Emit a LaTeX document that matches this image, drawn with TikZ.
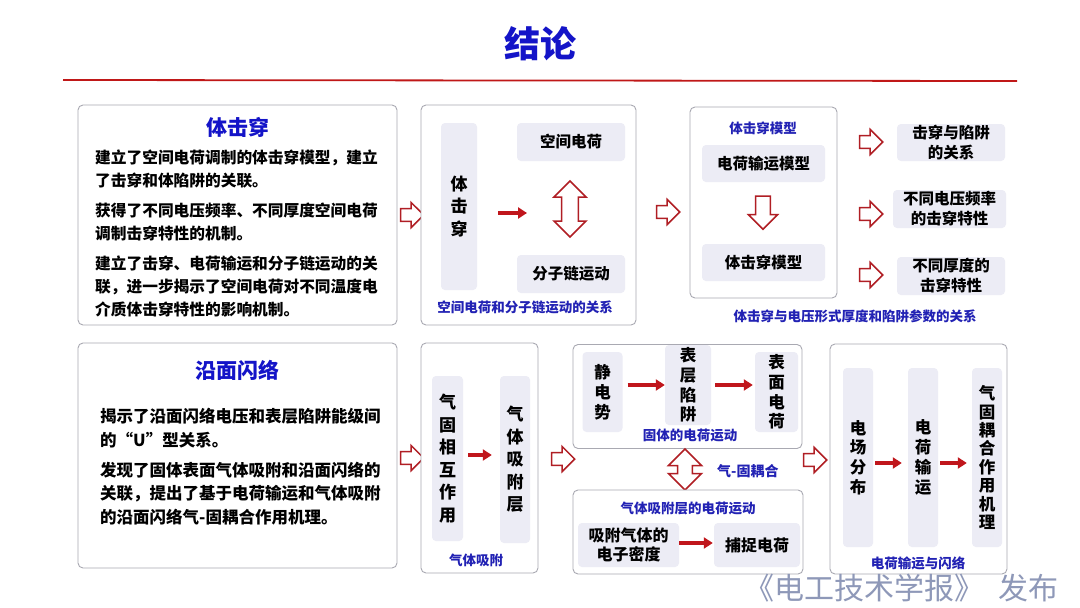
\documentclass[tikz,border=0pt]{standalone}
\usepackage{fontspec}
\setmainfont{Noto Sans CJK SC}
\usetikzlibrary{shapes.arrows,arrows.meta}
\definecolor{titleblue}{HTML}{1414C8}
\definecolor{capblue}{HTML}{2222B4}
\definecolor{arrred}{HTML}{B01E24}
\definecolor{solidred}{HTML}{C0161C}
\definecolor{linered}{HTML}{C01818}
\definecolor{panelgray}{HTML}{A9A9B2}
\definecolor{palefill}{HTML}{ECECF5}
\definecolor{wmcolor}{HTML}{8E98B8}
\begin{document}
\begin{tikzpicture}[x=1pt,y=-1pt,
 panel/.style={draw=panelgray, line width=0.9pt, rounded corners=5pt, fill=white, inner sep=0pt},
 pale/.style={fill=palefill, rounded corners=4pt, inner sep=0pt, align=center, font=\bfseries\fontsize{15.5}{20}\selectfont},
 vert/.style={pale, font=\bfseries\fontsize{17}{22.5}\selectfont},
 vsmall/.style={pale, font=\bfseries\fontsize{16.5}{19.8}\selectfont},
 captxt/.style={text=capblue, font=\bfseries\fontsize{13.5}{16}\selectfont, inner sep=0pt},
 body/.style={align=left, inner sep=0pt, font=\bfseries\fontsize{15.7}{23}\selectfont},
 ptitle/.style={text=titleblue, font=\bfseries\fontsize{21}{24}\selectfont, inner sep=0pt},
 redarr/.style={draw=solidred, line width=3.5pt, -{Triangle[length=9pt,width=11pt]}},
 hollow/.style={single arrow, draw=arrred, fill=white, line width=1.5pt, minimum height=23pt, minimum width=25pt, inner xsep=0pt, inner ysep=5.5pt, single arrow head extend=6pt},
 dhollow/.style={double arrow, draw=arrred, fill=white, line width=1.5pt, inner xsep=0pt, inner ysep=6pt, double arrow head extend=6pt, rotate=90}
]
\useasboundingbox[fill=white] (0,0) rectangle (1080,608);

% title
\node[text=titleblue, font=\bfseries\fontsize{36}{40}\selectfont, inner sep=0pt] (title) at (540,44) {结论};
\coordinate (la) at (63,80);
\coordinate (lb) at (1017,81);
\draw[linered, line width=1.8pt] (la) -- (lb);

% ---------- top row ----------
\node[panel, minimum width=319pt, minimum height=220pt] (b1) at (237.5,215) {};
\node[ptitle] (t1) at (238,127) {体击穿};
\node[body, anchor=west] (p1) at (95,233.5) {建立了空间电荷调制的体击穿模型，建立\\了击穿和体陷阱的关联。\\[7pt]获得了不同电压频率、不同厚度空间电荷\\调制击穿特性的机制。\\[7pt]建立了击穿、电荷输运和分子链运动的关\\联，进一步揭示了空间电荷对不同温度电\\介质体击穿特性的影响机制。};

\node[hollow] (h1) at (409,215) {};

\node[panel, minimum width=215pt, minimum height=220pt] (b2) at (528.5,215) {};
\node[vert, minimum width=36pt, minimum height=167pt] (v1) at (459,206.5) {体\\击\\穿};
\node[pale, minimum width=108pt, minimum height=38pt] (k1) at (571,142) {空间电荷};
\node[pale, minimum width=108pt, minimum height=38pt] (k2) at (571,274) {分子链运动};
\node[dhollow, minimum height=56pt, minimum width=32pt] (d1) at (570,209) {};
\coordinate (a1s) at (498,213);
\coordinate (a1e) at (527,213);
\draw[redarr] (a1s) -- (a1e);
\node[captxt] (c2) at (525,307) {空间电荷和分子链运动的关系};

\node[hollow] (h2) at (665,212) {};

\node[panel, minimum width=147pt, minimum height=191pt] (b3) at (763.5,202.5) {};
\node[captxt] (c3a) at (763,128) {体击穿模型};
\node[pale, minimum width=123pt, minimum height=37pt] (m1) at (763.5,163.5) {电荷输运模型};
\node[pale, minimum width=123pt, minimum height=37pt] (m2) at (763.5,262.5) {体击穿模型};
\node[hollow, rotate=-90, minimum height=33pt, minimum width=29pt] (h3) at (763,209) {};
\node[captxt] (c3) at (855,316) {体击穿与电压形式厚度和陷阱参数的关系};

\node[hollow] (h4) at (868,142) {};
\node[hollow] (h5) at (868,214) {};
\node[hollow] (h6) at (868,275) {};
\node[pale, minimum width=108pt, minimum height=37pt] (r1) at (951,142.5) {击穿与陷阱\\的关系};
\node[pale, minimum width=113pt, minimum height=38pt] (r2) at (949.5,209) {不同电压频率\\的击穿特性};
\node[pale, minimum width=108pt, minimum height=38pt] (r3) at (951,276) {不同厚度的\\击穿特性};

% ---------- bottom row ----------
\node[panel, minimum width=319pt, minimum height=225pt] (b4) at (237.5,455.5) {};
\node[ptitle] (t4) at (237,370) {沿面闪络};
\node[body, anchor=west, font=\bfseries\fontsize{16.5}{23.5}\selectfont] (p4) at (100,466.5) {揭示了沿面闪络电压和表层陷阱能级间\\的“U”型关系。\\[6.5pt]发现了固体表面气体吸附和沿面闪络的\\关联，提出了基于电荷输运和气体吸附\\的沿面闪络气-固耦合作用机理。};

\node[hollow] (h7) at (409,458) {};

\node[panel, minimum width=117pt, minimum height=230pt] (b5) at (479.5,458) {};
\node[vert, minimum width=31pt, minimum height=165pt] (g1) at (447.5,458.5) {气\\固\\相\\互\\作\\用};
\node[vert, minimum width=30pt, minimum height=167pt] (g2) at (515,459.5) {气\\体\\吸\\附\\层};
\draw[redarr, shorten <=5pt, shorten >=8pt] (g1.east |- 0,455) -- (g2.west |- 0,455);
\node[captxt] (c5) at (476,560) {气体吸附};

\node[hollow] (h8) at (560,459) {};

\node[panel, minimum width=229pt, minimum height=104pt] (b6) at (687.5,396.5) {};
\node[vsmall, minimum width=40pt, minimum height=80pt] (s1) at (602.5,392) {静\\电\\势};
\node[vsmall, minimum width=46pt, minimum height=80pt] (s2) at (688,385) {表\\层\\陷\\阱};
\node[vsmall, minimum width=43pt, minimum height=80pt] (s3) at (776.5,392) {表\\面\\电\\荷};
\draw[redarr, shorten <=5pt] (s1.east |- 0,385) -- (s2.west |- 0,385);
\draw[redarr, shorten <=4pt, shorten >=2pt] (s2.east |- 0,385) -- (s3.west |- 0,385);
\node[captxt] (c6) at (690,435) {固体的电荷运动};

\node[dhollow, minimum height=41pt, minimum width=33pt, double arrow head extend=7pt, inner ysep=5pt] (d2) at (685,469.5) {};
\node[text=capblue, font=\bfseries\fontsize{14}{16}\selectfont, inner sep=0pt, anchor=west] (cp) at (717,471) {气-固耦合};

\node[panel, minimum width=230pt, minimum height=84pt] (b7) at (688,532) {};
\node[captxt] (c7) at (688,508) {气体吸附层的电荷运动};
\node[pale, minimum width=101pt, minimum height=44pt, font=\bfseries\fontsize{16}{19}\selectfont] (e1) at (628.5,545) {吸附气体的\\电子密度};
\node[pale, minimum width=86pt, minimum height=44pt, font=\bfseries\fontsize{16}{19}\selectfont] (e2) at (757,545) {捕捉电荷};
\draw[redarr, shorten >=1pt] (e1.east |- 0,543) -- (e2.west |- 0,543);

\node[hollow] (h9) at (812,460) {};

\node[panel, minimum width=177pt, minimum height=230pt] (b8) at (918.5,459) {};
\node[vsmall, minimum width=30pt, minimum height=179pt] (f1) at (858,457.5) {电\\场\\分\\布};
\node[vsmall, minimum width=30pt, minimum height=179pt] (f2) at (923,457.5) {电\\荷\\输\\运};
\node[vsmall, minimum width=30pt, minimum height=179pt, font=\bfseries\fontsize{16.5}{18.4}\selectfont] (f3) at (987,457.5) {气\\固\\耦\\合\\作\\用\\机\\理};
\draw[redarr, shorten <=2pt, shorten >=6pt] (f1.east |- 0,463) -- (f2.west |- 0,463);
\draw[redarr, shorten <=2pt, shorten >=5pt] (f2.east |- 0,463) -- (f3.west |- 0,463);
\node[captxt] (c8) at (918,563) {电荷输运与闪络};

% watermark
\node[text=wmcolor, font=\fontsize{30}{32}\selectfont, inner sep=0pt, anchor=west] (wm) at (744,588) {《电工技术学报》\hspace{14pt}发布};
\end{tikzpicture}
\end{document}
